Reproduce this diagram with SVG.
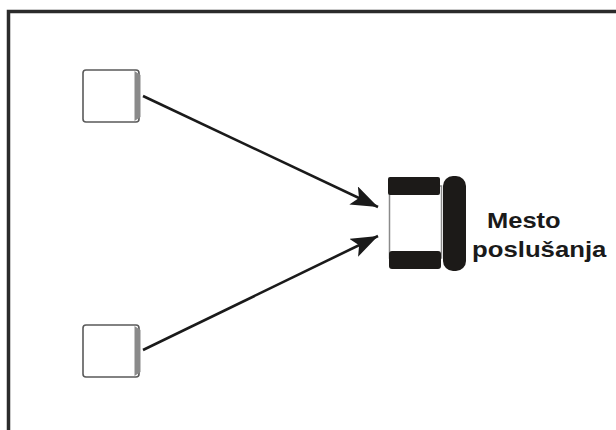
<svg xmlns="http://www.w3.org/2000/svg" width="616" height="430" viewBox="0 0 616 430">
  <defs>
    <style>
      .frame { fill: none; stroke: #2b2b2b; stroke-width: 3.5; }
      .sbox { fill: #ffffff; stroke: #5a5a5a; stroke-width: 1.6; }
      .shade { fill: #8a8a8a; }
      .edge { fill: none; stroke: #1a1a1a; stroke-width: 2.6; }
      .bar { fill: #1c1a18; }
      .inner { fill: #ffffff; stroke: #8a8a8a; stroke-width: 1.5; }
      .label { font-family: "Liberation Sans", Arial, sans-serif; font-weight: bold; font-size: 22px; fill: #1a1a1a; }
    </style>
    <marker id="arrow" markerUnits="userSpaceOnUse" markerWidth="30" markerHeight="22" refX="27" refY="10" orient="auto">
      <path d="M0,0 L27,10 L0,20 L6,10 Z" fill="#1a1a1a"/>
    </marker>
  </defs>

  <rect x="0" y="0" width="616" height="430" fill="#ffffff"/>
  <path class="frame" d="M8.5,430 V11.5 H616"/>

  <g id="connectors">
    <line class="edge" x1="143" y1="96" x2="378" y2="207" marker-end="url(#arrow)"/>
    <line class="edge" x1="143" y1="350" x2="378" y2="236" marker-end="url(#arrow)"/>
  </g>

  <g id="source-top">
    <rect class="sbox" x="83" y="70" width="56" height="52" rx="3"/>
    <path class="shade" d="M134.5,71 L140.5,75 L140.5,117 L134.5,121 Z"/>
  </g>

  <g id="source-bottom">
    <rect class="sbox" x="83" y="325" width="56" height="52" rx="3"/>
    <path class="shade" d="M134.5,326 L140.5,330 L140.5,372 L134.5,376 Z"/>
  </g>

  <g id="listening-place">
    <rect class="inner" x="389.5" y="186" width="52" height="72"/>
    <rect class="bar" x="388" y="177" width="52" height="18" rx="2"/>
    <rect class="bar" x="389" y="251" width="52" height="18" rx="3"/>
    <rect class="bar" x="443" y="176" width="23" height="95" rx="10"/>
    <text class="label" transform="translate(487,228) scale(1.16,1)">Mesto</text>
    <text class="label" transform="translate(472,257) scale(1.17,1)">poslušanja</text>
  </g>
</svg>
